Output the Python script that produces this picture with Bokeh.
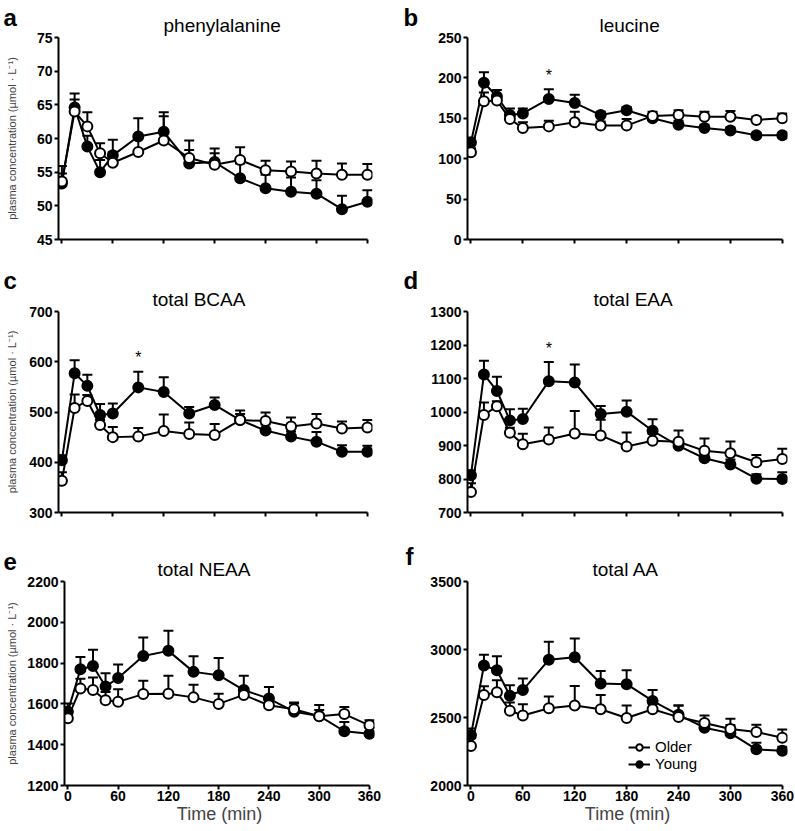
from bokeh.plotting import figure
from bokeh.models import (ColumnDataSource, Whisker, TeeHead, Legend,
                          LegendItem, FixedTicker, Title)
from bokeh.layouts import row, column
from bokeh.embed import file_html
from bokeh.resources import INLINE

# ---------------- data ----------------
time = [0, 15, 30, 45, 60, 90, 120, 150, 180, 210, 240, 270, 300, 330, 360]
xticks = [0, 60, 120, 180, 240, 300, 360]

phe_old = [53.6, 64.0, 61.8, 57.8, 56.4, 58.0, 59.7, 57.1, 56.1, 56.8, 55.3, 55.1, 54.8, 54.6, 54.6]
phe_old_se = [2.3, 1.8, 2.1, 1.5, 1.6, 2.1, 3.6, 2.6, 1.7, 1.9, 1.4, 1.5, 1.9, 1.7, 1.6]
phe_young = [53.3, 64.6, 58.8, 55.0, 57.5, 60.3, 61.0, 56.3, 56.5, 54.1, 52.6, 52.1, 51.8, 49.5, 50.6]
phe_young_se = [1.5, 2.1, 1.6, 1.8, 2.3, 2.7, 2.9, 2.0, 2.0, 2.2, 2.0, 2.1, 2.0, 2.0, 1.7]

leu_old = [108, 171, 172, 149, 138, 140, 145, 141, 141, 153, 154, 152, 152, 148, 150]
leu_old_se = [5, 11, 6, 5, 7, 7, 13, 5, 8, 5, 6, 6, 7, 4, 6]
leu_young = [120, 194, 177, 154, 156, 174, 169, 154, 160, 150, 142, 138, 135, 129, 129]
leu_young_se = [6, 13, 8, 8, 6, 12, 10, 4, 4, 5, 5, 4, 4, 3, 3]

bcaa_old = [363, 508, 522, 474, 450, 451, 462, 456, 454, 484, 482, 471, 477, 467, 469]
bcaa_old_se = [17, 27, 12, 10, 20, 17, 33, 23, 22, 12, 17, 18, 19, 14, 15]
bcaa_young = [404, 577, 552, 494, 497, 549, 540, 497, 514, 484, 463, 451, 441, 421, 421]
bcaa_young_se = [10, 26, 22, 22, 20, 31, 29, 13, 15, 19, 12, 10, 19, 13, 12]

eaa_old = [761, 991, 1017, 938, 904, 918, 936, 930, 897, 914, 911, 884, 877, 850, 860]
eaa_old_se = [26, 37, 15, 15, 31, 36, 67, 47, 42, 20, 34, 37, 35, 22, 30]
eaa_young = [811, 1112, 1063, 975, 979, 1092, 1088, 994, 1001, 944, 899, 862, 843, 801, 800]
eaa_young_se = [15, 41, 42, 33, 31, 57, 54, 24, 33, 34, 15, 12, 15, 13, 20]

neaa_old = [1530, 1676, 1668, 1618, 1610, 1648, 1650, 1632, 1600, 1644, 1593, 1574, 1540, 1550, 1495]
neaa_old_se = [45, 47, 62, 40, 62, 65, 88, 62, 50, 20, 30, 33, 30, 35, 25]
neaa_young = [1562, 1770, 1786, 1685, 1727, 1835, 1860, 1757, 1741, 1668, 1626, 1562, 1541, 1466, 1454]
neaa_young_se = [40, 60, 80, 65, 66, 90, 98, 77, 84, 70, 57, 40, 53, 45, 30]

aa_old = [2290, 2665, 2685, 2550, 2515, 2568, 2588, 2561, 2496, 2561, 2503, 2460, 2416, 2394, 2351]
aa_old_se = [60, 65, 88, 60, 83, 86, 143, 104, 92, 40, 85, 55, 75, 52, 60]
aa_young = [2370, 2882, 2847, 2660, 2702, 2924, 2943, 2750, 2745, 2622, 2520, 2425, 2385, 2266, 2255]
aa_young_se = [50, 80, 104, 78, 84, 133, 138, 92, 102, 80, 68, 40, 60, 48, 30]

sig_times = [90]  # asterisk (Young vs Older) in panels b, c, d

FONT = "Liberation Sans"
YLABEL = "plasma concentration (\u00b5mol \u00b7 L\u207b\u00b9)"
XSTART, XEND = -4, 366


def panel(letter, title, old, old_se, young, young_se, ylim, ystep, *,
          w, h, bl, br, bt, bb, title_off, letter_off, ylabel=False,
          ylabel_standoff=10, xlabels=False, sig=None, legend_loc=None):
    p = figure(width=w, height=h, x_range=(XSTART, XEND), y_range=ylim,
               output_backend="svg", toolbar_location=None,
               min_border_left=bl, min_border_right=br,
               min_border_top=bt, min_border_bottom=bb)
    p.outline_line_color = None
    p.xgrid.visible = False
    p.ygrid.visible = False
    p.background_fill_color = "white"
    p.title.text = ""

    p.add_layout(Title(text=title, align="left", offset=title_off, standoff=4,
                       text_font=FONT, text_font_size="19px",
                       text_font_style="normal", text_color="black"), "above")
    p.add_layout(Title(text=letter, align="left", offset=letter_off[0],
                       standoff=letter_off[1], text_font=FONT,
                       text_font_size="24px", text_font_style="bold",
                       text_color="black"), "above")

    for ax in (p.xaxis, p.yaxis):
        ax.axis_line_width = 2
        ax.axis_line_color = "black"
        ax.major_tick_line_width = 2
        ax.major_tick_line_color = "black"
        ax.major_tick_out = 4
        ax.major_tick_in = 0
        ax.minor_tick_line_color = None
        ax.major_label_text_font = FONT
        ax.major_label_text_font_style = "bold"
        ax.major_label_text_color = "black"
    p.yaxis.major_label_text_font_size = "14px"
    p.yaxis.major_label_standoff = 2
    p.yaxis.ticker = FixedTicker(ticks=list(range(ylim[0], ylim[1] + 1, ystep)))
    p.xaxis.ticker = FixedTicker(ticks=xticks)
    p.xaxis.bounds = (XSTART, xticks[-1])
    if xlabels:
        p.xaxis.major_label_text_font_size = "14px"
        p.xaxis.major_label_standoff = 1
        p.xaxis.axis_label = "Time (min)"
        p.xaxis.axis_label_text_font = FONT
        p.xaxis.axis_label_text_font_size = "18px"
        p.xaxis.axis_label_text_font_style = "normal"
        p.xaxis.axis_label_standoff = 0
    else:
        p.xaxis.major_label_overrides = {t: "" for t in xticks}
        p.xaxis.major_label_standoff = 0
    if ylabel:
        p.yaxis.axis_label = YLABEL
        p.yaxis.axis_label_text_font = FONT
        p.yaxis.axis_label_text_font_size = "11px"
        p.yaxis.axis_label_text_font_style = "normal"
        p.yaxis.axis_label_standoff = ylabel_standoff

    src_o = ColumnDataSource(dict(t=time, v=old, up=[a + b for a, b in zip(old, old_se)]))
    src_y = ColumnDataSource(dict(t=time, v=young, up=[a + b for a, b in zip(young, young_se)]))

    for src in (src_y, src_o):
        wk = Whisker(source=src, base="t", lower="v", upper="up",
                     line_color="black", line_width=2, lower_head=None,
                     upper_head=TeeHead(size=10, line_width=2, line_color="black"))
        p.add_layout(wk)

    ly = p.line("t", "v", source=src_y, line_color="black", line_width=2)
    lo = p.line("t", "v", source=src_o, line_color="black", line_width=2)
    py = p.scatter("t", "v", source=src_y, size=10, marker="circle",
                   fill_color="black", line_color="black", line_width=2)
    po = p.scatter("t", "v", source=src_o, size=10, marker="circle",
                   fill_color="white", line_color="black", line_width=2)

    if sig:
        idx = [time.index(t) for t in sig]
        p.text(x=[time[i] for i in idx],
               y=[young[i] + young_se[i] for i in idx],
               text=["*"] * len(idx), text_align="center",
               text_baseline="alphabetic", y_offset=-14,
               text_font_size="16px", text_color="black")

    if legend_loc is not None:
        lg = Legend(items=[LegendItem(label="Older", renderers=[lo, po]),
                           LegendItem(label="Young", renderers=[ly, py])],
                    location=legend_loc, padding=0, margin=0, spacing=0,
                    glyph_width=22, glyph_height=16, label_height=16,
                    label_standoff=5, border_line_color=None,
                    background_fill_alpha=0, label_text_font=FONT,
                    label_text_font_size="15px", label_text_color="black")
        p.add_layout(lg)
    return p


pa = panel("a", "phenylalanine", phe_old, phe_old_se, phe_young, phe_young_se,
           (45, 75), 5, w=400, h=262, bl=58, br=28, bt=37, bb=22,
           title_off=105, letter_off=(-55, -40), ylabel=True, ylabel_standoff=16)
pb = panel("b", "leucine", leu_old, leu_old_se, leu_young, leu_young_se,
           (0, 250), 50, w=395, h=262, bl=67, br=8, bt=33, bb=23,
           title_off=132, letter_off=(-64, -40), sig=sig_times)
pc = panel("c", "total BCAA", bcaa_old, bcaa_old_se, bcaa_young, bcaa_young_se,
           (300, 700), 100, w=400, h=268, bl=58, br=28, bt=49, bb=18,
           title_off=94, letter_off=(-55, -19), ylabel=True, ylabel_standoff=8,
           sig=sig_times)
pd_ = panel("d", "total EAA", eaa_old, eaa_old_se, eaa_young, eaa_young_se,
            (700, 1300), 100, w=395, h=268, bl=67, br=8, bt=44, bb=18,
            title_off=126, letter_off=(-64, -18), sig=sig_times)
pe = panel("e", "total NEAA", neaa_old, neaa_old_se, neaa_young, neaa_young_se,
           (1200, 2200), 200, w=400, h=301, bl=64, br=26, bt=51, bb=44,
           title_off=93, letter_off=(-61, -31), ylabel=True, ylabel_standoff=6,
           xlabels=True)
pf = panel("f", "total AA", aa_old, aa_old_se, aa_young, aa_young_se,
           (2000, 3500), 500, w=395, h=301, bl=67, br=8, bt=48, bb=46,
           title_off=125, letter_off=(-62, -30), xlabels=True,
           legend_loc=(161, 13))

p = column(row(pa, pb), row(pc, pd_), row(pe, pf))
open("out.html", "w").write(file_html(p, INLINE))
